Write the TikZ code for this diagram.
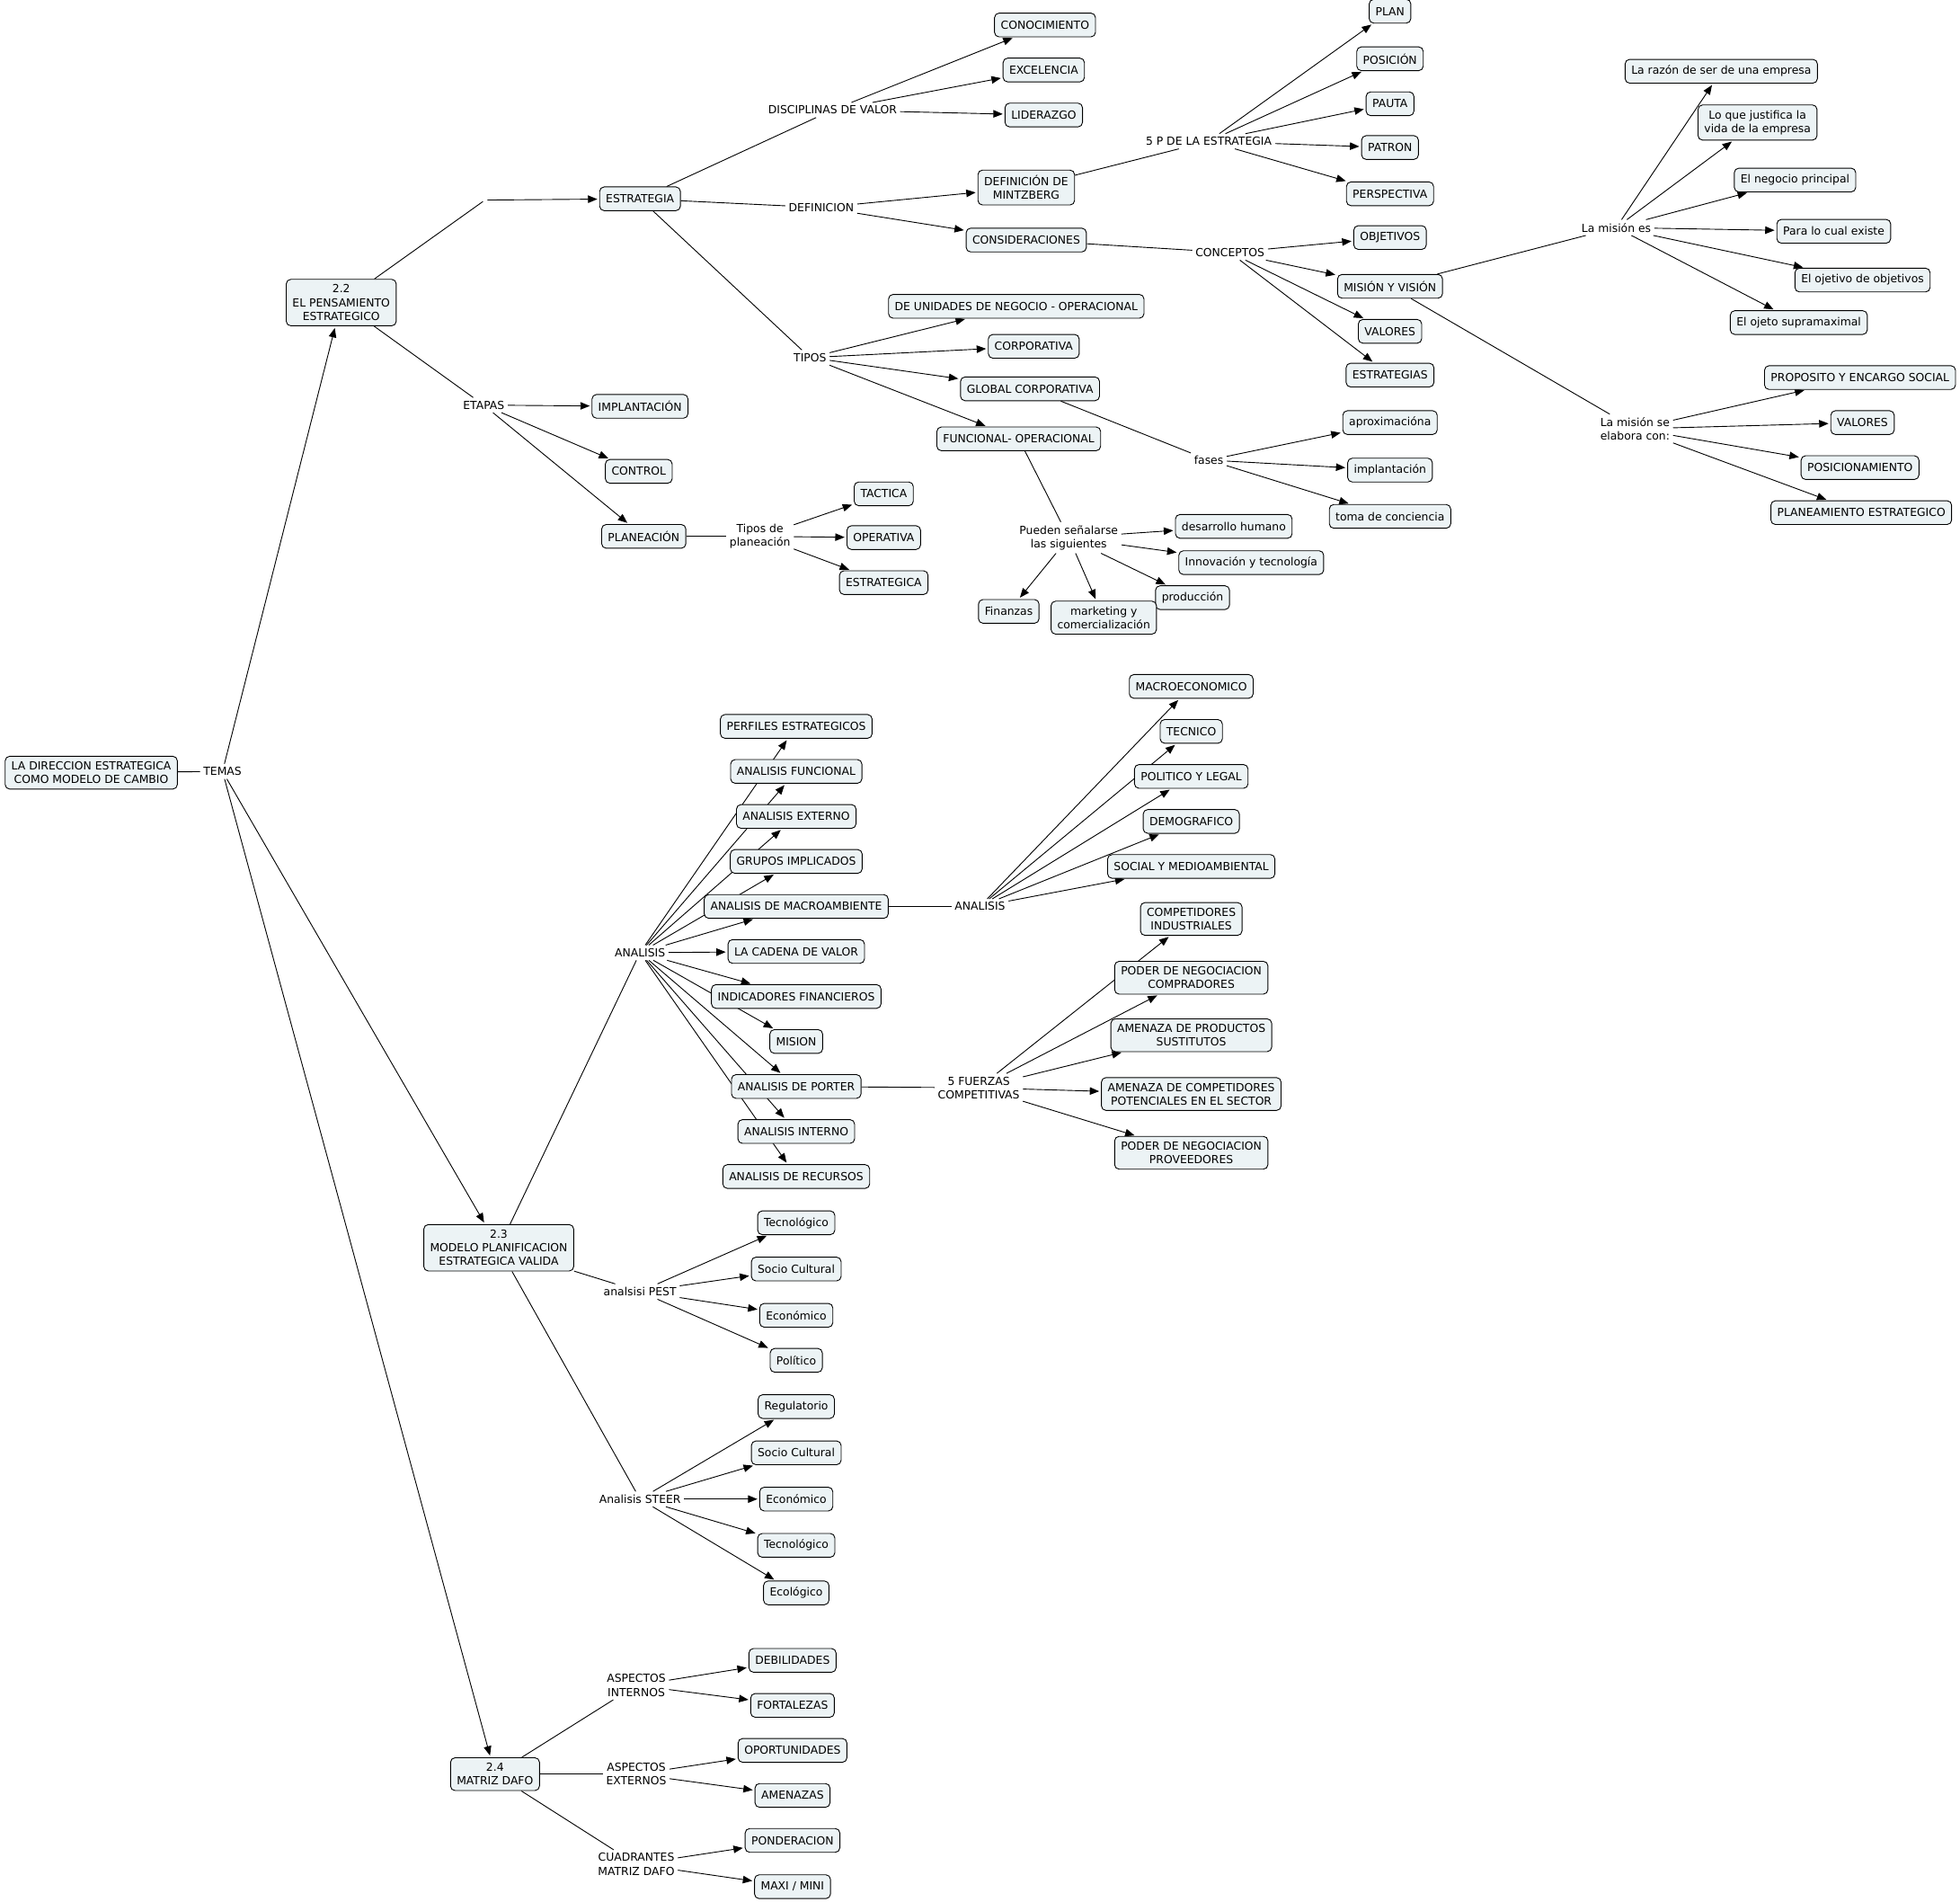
\documentclass[tikz,border=0pt]{standalone}
\usepackage{fontspec}
\setmainfont{DejaVu Sans}
\usetikzlibrary{arrows.meta}
\pgfdeclarelayer{background}
\pgfsetlayers{background,main}
\definecolor{boxfill}{RGB}{236,243,245}

\begin{document}
\begin{tikzpicture}[x=1pt,y=-1pt,
  concept/.style={draw, line width=0.65pt, rounded corners=3.6pt, fill=boxfill,
    align=center, inner xsep=5pt, inner ysep=4.3pt, minimum height=19pt,
    font=\fontsize{8.9}{10.9}\selectfont},
  linkph/.style={align=center, inner sep=2.5pt, font=\fontsize{8.9}{10.9}\selectfont},
  rel/.style={line width=0.65pt},
  arr/.style={rel, -{Triangle[length=7.5pt,width=6pt]}, shorten >=1.5pt}]
  \useasboundingbox (0,0) rectangle (1568,1521);

  % main concept and its three topics
  \node[concept] (root) at (73,618) {LA DIRECCION ESTRATEGICA\\COMO MODELO DE CAMBIO};
  \node[linkph] (temas) at (178,617) {TEMAS};
  \node[concept] (pens) at (273,242) {2.2\\EL PENSAMIENTO\\ESTRATEGICO};
  \node[concept] (modelo) at (399,998) {2.3\\MODELO PLANIFICACION\\ESTRATEGICA VALIDA};
  \node[concept] (dafo) at (396,1419) {2.4\\MATRIZ DAFO};

  % 2.2 el pensamiento estrategico
  \coordinate (blank) at (388,160);
  \node[concept] (estr) at (512,159) {ESTRATEGIA};
  \node[linkph] (discip) at (666,88) {DISCIPLINAS DE VALOR};
  \node[concept] (cono) at (836,20) {CONOCIMIENTO};
  \node[concept] (exce) at (835,56) {EXCELENCIA};
  \node[concept] (lide) at (835,92) {LIDERAZGO};
  \node[linkph] (defin) at (657,166) {DEFINICION};
  \node[concept] (mintz) at (821,150) {DEFINICIÓN DE\\MINTZBERG};
  \node[concept] (consid) at (821,192) {CONSIDERACIONES};

  \node[linkph] (cincop) at (967,113) {5 P DE LA ESTRATEGIA};
  \foreach \nm/\yy/\txt in {plan/9/PLAN, posic/47/POSICIÓN, pauta/83/PAUTA,
      patron/118/PATRON, persp/155/PERSPECTIVA}
    \node[concept] (\nm) at (1112,\yy) {\txt};

  \node[linkph] (concep) at (984,202) {CONCEPTOS};
  \foreach \nm/\yy/\txt in {objet/190/OBJETIVOS, misvis/229/MISIÓN Y VISIÓN,
      valA/265/VALORES, estrats/300/ESTRATEGIAS}
    \node[concept] (\nm) at (1112,\yy) {\txt};

  \node[linkph] (mises) at (1293,182) {La misión es};
  \node[concept] (razon) at (1377,57) {La razón de ser de una empresa};
  \node[concept] (justif) at (1406,98) {Lo que justifica la\\vida de la empresa};
  \node[concept] (negocio) at (1436,144) {El negocio principal};
  \node[concept] (cualex) at (1467,185) {Para lo cual existe};
  \node[concept] (objobj) at (1490,224) {El ojetivo de objetivos};
  \node[concept] (supram) at (1439,258) {El ojeto supramaximal};

  \node[linkph] (miselab) at (1308,343) {La misión se\\elabora con:};
  \node[concept] (propos) at (1488,302) {PROPOSITO Y ENCARGO SOCIAL};
  \node[concept] (valB) at (1490,338) {VALORES};
  \node[concept] (posicion) at (1488,374) {POSICIONAMIENTO};
  \node[concept] (planeam) at (1489,410) {PLANEAMIENTO ESTRATEGICO};

  \node[linkph] (tipos) at (648,286) {TIPOS};
  \node[concept] (unid) at (813,245) {DE UNIDADES DE NEGOCIO - OPERACIONAL};
  \node[concept] (corp) at (827,277) {CORPORATIVA};
  \node[concept] (glob) at (824,311) {GLOBAL CORPORATIVA};
  \node[concept] (func) at (815,351) {FUNCIONAL- OPERACIONAL};

  \node[linkph] (fases) at (967,368) {fases};
  \node[concept] (aprox) at (1112,338) {aproximacióna};
  \node[concept] (implB) at (1112,376) {implantación};
  \node[concept] (toma) at (1112,413) {toma de conciencia};

  \node[linkph] (pueden) at (855,430) {Pueden señalarse\\las siguientes};
  \node[concept] (desa) at (987,421) {desarrollo humano};
  \node[concept] (innov) at (1001,450) {Innovación y tecnología};
  \node[concept] (produc) at (954,478) {producción};
  \node[concept] (finan) at (807,489) {Finanzas};
  \node[concept] (market) at (883,494) {marketing y\\comercialización};

  \node[linkph] (etapas) at (387,324) {ETAPAS};
  \node[concept] (implA) at (512,325) {IMPLANTACIÓN};
  \node[concept] (control) at (511,377) {CONTROL};
  \node[concept] (planea) at (515,429) {PLANEACIÓN};
  \node[linkph] (tiposplan) at (608,429) {Tipos de\\planeación};
  \node[concept] (tactica) at (707,395) {TACTICA};
  \node[concept] (operat) at (707,430) {OPERATIVA};
  \node[concept] (estrca) at (707,466) {ESTRATEGICA};

  % 2.3 modelo planificacion estrategica
  \node[linkph] (analA) at (512,762) {ANALISIS};
  \foreach \nm/\yy/\txt in {perf/581/PERFILES ESTRATEGICOS, afunc/617/ANALISIS FUNCIONAL,
      aexte/653/ANALISIS EXTERNO, grupos/689/GRUPOS IMPLICADOS,
      macro/725/ANALISIS DE MACROAMBIENTE, cadena/761/LA CADENA DE VALOR,
      indic/797/INDICADORES FINANCIEROS, mision/833/MISION,
      porter/869/ANALISIS DE PORTER, ainte/905/ANALISIS INTERNO,
      recur/941/ANALISIS DE RECURSOS}
    \node[concept] (\nm) at (637,\yy) {\txt};

  \node[linkph] (analB) at (784,725) {ANALISIS};
  \foreach \nm/\yy/\txt in {macroec/549/MACROECONOMICO, tecnico/585/TECNICO,
      polit/621/POLITICO Y LEGAL, demog/657/DEMOGRAFICO,
      social/693/SOCIAL Y MEDIOAMBIENTAL}
    \node[concept] (\nm) at (953,\yy) {\txt};

  \node[linkph] (fuerzas) at (783,870) {5 FUERZAS\\COMPETITIVAS};
  \node[concept] (compind) at (953,735) {COMPETIDORES\\INDUSTRIALES};
  \node[concept] (podcomp) at (953,782) {PODER DE NEGOCIACION\\COMPRADORES};
  \node[concept] (amprod) at (953,828) {AMENAZA DE PRODUCTOS\\SUSTITUTOS};
  \node[concept] (amcomp) at (953,875) {AMENAZA DE COMPETIDORES\\POTENCIALES EN EL SECTOR};
  \node[concept] (podprov) at (953,922) {PODER DE NEGOCIACION\\PROVEEDORES};

  \node[linkph] (pest) at (512,1033) {analsisi PEST};
  \foreach \nm/\yy/\txt in {pTec/978/Tecnológico, pSoc/1015/Socio Cultural,
      pEco/1052/Económico, pPol/1088/Político}
    \node[concept] (\nm) at (637,\yy) {\txt};

  \node[linkph] (steer) at (512,1199) {Analisis STEER};
  \foreach \nm/\yy/\txt in {sReg/1125/Regulatorio, sSoc/1162/Socio Cultural,
      sEco/1199/Económico, sTec/1236/Tecnológico, sEcol/1274/Ecológico}
    \node[concept] (\nm) at (637,\yy) {\txt};

  % 2.4 matriz dafo
  \node[linkph] (asint) at (509,1348) {ASPECTOS\\INTERNOS};
  \node[concept] (debil) at (634,1328) {DEBILIDADES};
  \node[concept] (fortal) at (634,1364) {FORTALEZAS};
  \node[linkph] (asext) at (509,1419) {ASPECTOS\\EXTERNOS};
  \node[concept] (oport) at (634,1400) {OPORTUNIDADES};
  \node[concept] (amen) at (634,1436) {AMENAZAS};
  \node[linkph] (cuad) at (509,1491) {CUADRANTES\\MATRIZ DAFO};
  \node[concept] (ponder) at (634,1472) {PONDERACION};
  \node[concept] (maxi) at (634,1509) {MAXI / MINI};

  % links, kept under the boxes
  \begin{pgfonlayer}{background}
    \draw[rel] (root) -- (temas);
    \foreach \n in {pens,modelo,dafo} \draw[arr] (temas) -- (\n);

    \draw[rel, shorten >=2pt] (pens) -- (blank);
    \draw[arr, shorten <=2pt] (blank) -- (estr);
    \draw[rel] (estr) -- (discip);
    \foreach \n in {cono,exce,lide} \draw[arr] (discip) -- (\n);
    \draw[rel] (estr) -- (defin);
    \foreach \n in {mintz,consid} \draw[arr] (defin) -- (\n);
    \draw[rel] (mintz) -- (cincop);
    \foreach \n in {plan,posic,pauta,patron,persp} \draw[arr] (cincop) -- (\n);
    \draw[rel] (consid) -- (concep);
    \foreach \n in {objet,misvis,valA,estrats} \draw[arr] (concep) -- (\n);
    \draw[rel] (misvis) -- (mises);
    \foreach \n in {razon,justif,negocio,cualex,objobj,supram} \draw[arr] (mises) -- (\n);
    \draw[rel] (misvis) -- (miselab);
    \foreach \n in {propos,valB,posicion,planeam} \draw[arr] (miselab) -- (\n);
    \draw[rel] (estr) -- (tipos);
    \foreach \n in {unid,corp,glob,func} \draw[arr] (tipos) -- (\n);
    \draw[rel] (glob) -- (fases);
    \foreach \n in {aprox,implB,toma} \draw[arr] (fases) -- (\n);
    \draw[rel] (func) -- (pueden);
    \foreach \n in {desa,innov,produc,finan,market} \draw[arr] (pueden) -- (\n);
    \draw[rel] (pens) -- (etapas);
    \foreach \n in {implA,control,planea} \draw[arr] (etapas) -- (\n);
    \draw[rel] (planea) -- (tiposplan);
    \foreach \n in {tactica,operat,estrca} \draw[arr] (tiposplan) -- (\n);

    \draw[rel] (modelo) -- (analA);
    \foreach \n in {perf,afunc,aexte,grupos,macro,cadena,indic,mision,porter,ainte,recur}
      \draw[arr] (analA) -- (\n);
    \draw[rel] (macro) -- (analB);
    \foreach \n in {macroec,tecnico,polit,demog,social} \draw[arr] (analB) -- (\n);
    \draw[rel] (porter) -- (fuerzas);
    \foreach \n in {compind,podcomp,amprod,amcomp,podprov} \draw[arr] (fuerzas) -- (\n);
    \draw[rel] (modelo) -- (pest);
    \foreach \n in {pTec,pSoc,pEco,pPol} \draw[arr] (pest) -- (\n);
    \draw[rel] (modelo) -- (steer);
    \foreach \n in {sReg,sSoc,sEco,sTec,sEcol} \draw[arr] (steer) -- (\n);

    \draw[rel] (dafo) -- (asint);
    \foreach \n in {debil,fortal} \draw[arr] (asint) -- (\n);
    \draw[rel] (dafo) -- (asext);
    \foreach \n in {oport,amen} \draw[arr] (asext) -- (\n);
    \draw[rel] (dafo) -- (cuad);
    \foreach \n in {ponder,maxi} \draw[arr] (cuad) -- (\n);
  \end{pgfonlayer}
\end{tikzpicture}
\end{document}
